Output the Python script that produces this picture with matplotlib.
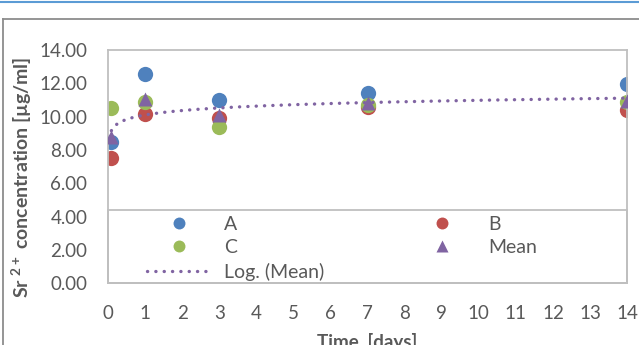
import matplotlib
matplotlib.use('Agg')
import matplotlib.pyplot as plt
import numpy as np
from matplotlib.lines import Line2D
from matplotlib.patches import Rectangle

plt.rcParams['font.family'] = ['Lato', 'DejaVu Sans']
plt.rcParams['mathtext.fontset'] = 'custom'
plt.rcParams['mathtext.rm'] = 'Lato'
plt.rcParams['mathtext.bf'] = 'Lato:bold'

# datos
dias = [0.083, 1, 3, 7, 14]
serie_a = [8.5, 12.55, 11.0, 11.45, 11.95]
serie_b = [7.5, 10.15, 9.9, 10.6, 10.4]
serie_c = [10.55, 10.9, 9.4, 10.7, 10.9]
media = [8.8, 11.05, 10.1, 10.85, 10.95]

etiquetas_x = list(range(0, 15))
etiquetas_y = [0, 2, 4, 6, 8, 10, 12, 14]

azul = '#4F81BD'
rojo = '#C0504D'
verde = '#9BBB59'
violeta = '#8064A2'
gris_texto = '#595959'
gris_borde = '#BFBFBF'

fig = plt.figure(figsize=(6.39, 3.45), dpi=100)
ax = fig.add_axes([0.1695, 0.1788, 0.9812 - 0.1695, 0.855 - 0.1788])

ms = 11
ax.plot(dias, serie_a, 'o', color=azul, ms=ms, mec='none', label='A', zorder=2)
ax.plot(dias, serie_b, 'o', color=rojo, ms=ms, mec='none', label='B', zorder=2)
ax.plot(dias, serie_c, 'o', color=verde, ms=ms, mec='none', label='C', zorder=2)

# tendencia logaritmica de la media (como Excel)
pend, orden = np.polyfit(np.log(dias), media, 1)
xt = np.linspace(dias[0], dias[-1], 400)
linea_log, = ax.plot(xt, pend * np.log(xt) + orden, color=violeta, lw=2.4,
                     dashes=[0.05, 2.45], dash_capstyle='round',
                     label='Log. (Mean)', zorder=2.5)
ax.plot(dias, media, '^', color=violeta, ms=10.5, mec='none', label='Mean', zorder=3)

ax.set_xlim(0, 14)
ax.set_ylim(0, 14)
ax.set_xticks(etiquetas_x)
ax.set_yticks(etiquetas_y)
ax.set_yticklabels([f'{v:.2f}' for v in etiquetas_y])
ax.tick_params(length=0, labelsize=13.5, labelcolor=gris_texto)
ax.tick_params(axis='y', pad=15)
ax.tick_params(axis='x', pad=15.5)
for s in ax.spines.values():
    s.set_color(gris_borde)
    s.set_linewidth(1.3)

# caja de la leyenda
ax.add_patch(Rectangle((0, 0), 1, 0.314, transform=ax.transAxes, fill=False,
                       edgecolor=gris_borde, lw=1.3, zorder=1, clip_on=False))

h = {l.get_label(): l for l in ax.get_lines()}
kw = dict(frameon=False, fontsize=14, labelcolor=gris_texto, handlelength=3.25,
          handletextpad=0.72, labelspacing=0.33, borderpad=0, borderaxespad=0,
          markerscale=0.78, loc='upper left')
leg1 = ax.legend([h['A'], h['C'], linea_log], ['A', 'C', 'Log. (Mean)'],
                 bbox_to_anchor=(0.0746, 0.29), **kw)
ax.add_artist(leg1)
ax.legend([h['B'], h['Mean']], ['B', 'Mean'], bbox_to_anchor=(0.583, 0.29), **kw)

fig.text(22 / 639, 1 - 177 / 345, r'Sr $\mathbf{^{2+}}$ concentration [µg/ml]',
         rotation=90, ha='center', va='center', fontsize=14, fontweight='bold',
         color=gris_texto)
fig.text(367 / 639, 1 - 342 / 345, 'Time, [days]', ha='center', va='center',
         fontsize=13.5, fontweight='bold', color=gris_texto)

# bordes exteriores del grafico
fig.add_artist(Line2D([0, 1], [1 - 1.7 / 345] * 2, color='#5B9BD5', lw=1.5))
fig.add_artist(Line2D([3.3 / 639, 1], [1 - 19.3 / 345] * 2, color='#8C8C8C', lw=1.3))
fig.add_artist(Line2D([3.3 / 639] * 2, [0, 1 - 19.3 / 345], color='#8C8C8C', lw=1.3))

fig.savefig('out.png', dpi=100)
